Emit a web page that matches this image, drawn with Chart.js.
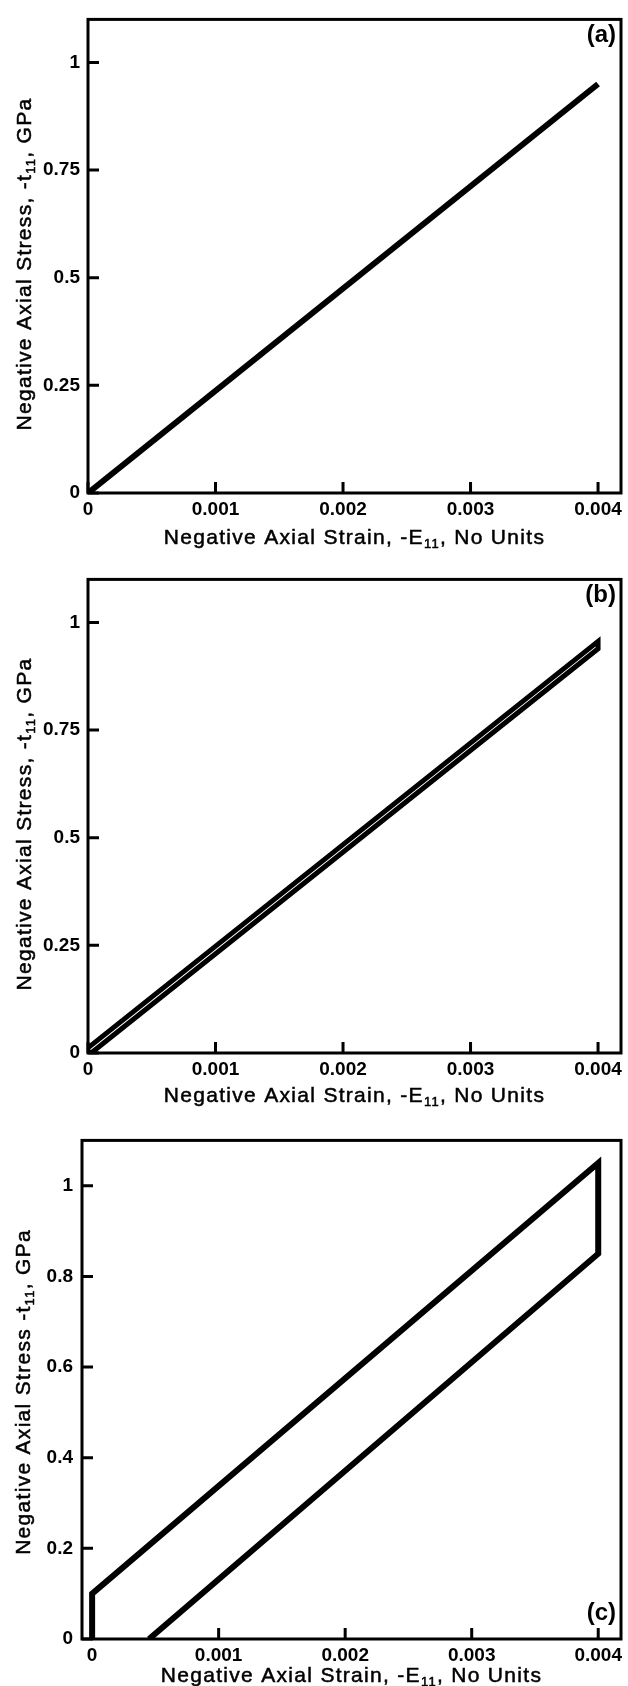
<!DOCTYPE html>
<html lang="en">

<head>
    <meta charset="UTF-8">
    <title>Axial stress vs strain</title>
    <script src="https://cdn.jsdelivr.net/npm/chart.js"></script>
    <style>
        body { margin: 0; background: #fff; }
        canvas { display: block; }
    </style>
</head>

<body>
    <canvas id="graficoA" width="628" height="560"></canvas>
    <canvas id="graficoB" width="628" height="560"></canvas>
    <canvas id="graficoC" width="628" height="566"></canvas>
</body>

</html>

<script>
    // dados
    const strainA = [0, 0.004];
    const stressA = [0, 0.95];

    const strainB = [0, 0, 0.004, 0.004, 0.000025];
    const stressB = [0, 0.012, 0.956, 0.939, 0];

    const strainC = [0, 0, 0.004, 0.004, 0.00045];
    const stressC = [0, 0.1, 1.05, 0.85, 0];

    const xTicks = [0, 0.001, 0.002, 0.003, 0.004];
    const xTickLabels = ['0', '0.001', '0.002', '0.003', '0.004'];
    const yTicksAB = [0, 0.25, 0.5, 0.75, 1];
    const yTickLabelsAB = ['0', '0.25', '0.5', '0.75', '1'];
    const yTicksC = [0, 0.2, 0.4, 0.6, 0.8, 1];
    const yTickLabelsC = ['0', '0.2', '0.4', '0.6', '0.8', '1'];

    // titulos: [texto, subscrito?]
    const xTitle = [['Negative Axial Strain, -E', false], ['11', true], [', No Units', false]];
    const yTitleAB = [['Negative Axial Stress, -t', false], ['11', true], [', GPa', false]];
    const yTitleC = [['Negative Axial Stress -t', false], ['11', true], [', GPa', false]];

    const FONT = "'Liberation Sans', Arial, sans-serif";

    function drawRich(ctx, parts, size) {
        ctx.letterSpacing = '1.3px';
        ctx.lineWidth = 0.5;
        let total = 0;
        parts.forEach(p => {
            ctx.font = (p[1] ? Math.round(size * 0.62) : size) + 'px ' + FONT;
            total += ctx.measureText(p[0]).width;
        });
        let x = -total / 2;
        ctx.textBaseline = 'middle';
        ctx.textAlign = 'left';
        parts.forEach(p => {
            ctx.font = (p[1] ? Math.round(size * 0.62) : size) + 'px ' + FONT;
            const yy = p[1] ? size * 0.32 : 0;
            ctx.fillText(p[0], x, yy);
            ctx.strokeText(p[0], x, yy);
            x += ctx.measureText(p[0]).width;
        });
        ctx.letterSpacing = '0px';
    }

    const moldura = {
        id: 'moldura',
        afterDraw(chart, args, o) {
            const { ctx, chartArea: a, scales: { x, y } } = chart;
            ctx.save();
            ctx.strokeStyle = '#000';
            ctx.fillStyle = '#000';
            ctx.lineWidth = 3;
            ctx.strokeRect(a.left, a.top, a.right - a.left, a.bottom - a.top);
            // marcas para dentro
            ctx.beginPath();
            x.ticks.forEach(t => {
                const px = x.getPixelForValue(t.value);
                ctx.moveTo(px, a.bottom);
                ctx.lineTo(px, a.bottom - 11);
            });
            y.ticks.forEach(t => {
                const py = y.getPixelForValue(t.value);
                ctx.moveTo(a.left, py);
                ctx.lineTo(a.left + 11, py);
            });
            ctx.stroke();

            // titulo eixo x
            ctx.save();
            ctx.translate((a.left + a.right) / 2, o.xTitleY);
            drawRich(ctx, xTitle, 21);
            ctx.restore();

            // titulo eixo y
            ctx.save();
            ctx.translate(o.yTitleX, o.yTitleY);
            ctx.rotate(-Math.PI / 2);
            drawRich(ctx, o.yTitle, 21);
            ctx.restore();

            // letra do painel
            ctx.font = 'bold 24px ' + FONT;
            ctx.textAlign = 'right';
            ctx.textBaseline = 'middle';
            ctx.fillText(o.letra, o.letraX, o.letraY);
            ctx.restore();
        }
    };

    function criarGrafico(id, strain, stress, cfg) {
        const pontos = strain.map((v, i) => ({ x: v, y: stress[i] }));
        return new Chart(document.getElementById(id), {
            type: 'scatter',
            data: {
                datasets: [{
                    data: pontos,
                    showLine: true,
                    borderColor: '#000',
                    borderWidth: cfg.lw,
                    borderJoinStyle: 'miter',
                    borderCapStyle: 'butt',
                    pointRadius: 0,
                    fill: false,
                    tension: 0
                }]
            },
            plugins: [moldura],
            options: {
                responsive: false,
                animation: false,
                layout: { padding: { top: cfg.top, right: 7, left: 0, bottom: 0 } },
                plugins: {
                    legend: { display: false },
                    tooltip: { enabled: false },
                    moldura: cfg.moldura
                },
                scales: {
                    x: {
                        type: 'linear',
                        min: cfg.xmin,
                        max: cfg.xmax,
                        grid: { display: false, drawTicks: false },
                        border: { display: false },
                        afterBuildTicks: s => { s.ticks = xTicks.map(v => ({ value: v })); },
                        afterFit: s => { s.height = cfg.xh; },
                        ticks: {
                            padding: 5,
                            color: '#000',
                            maxRotation: 0,
                            font: { family: FONT, size: 19, weight: 'bold' },
                            callback: (v) => xTickLabels[xTicks.indexOf(v)]
                        }
                    },
                    y: {
                        type: 'linear',
                        min: 0,
                        max: 1.1,
                        grid: { display: false, drawTicks: false },
                        border: { display: false },
                        afterBuildTicks: s => { s.ticks = cfg.yTicks.map(v => ({ value: v })); },
                        afterFit: s => { s.width = cfg.yw; },
                        ticks: {
                            padding: cfg.ypad,
                            color: '#000',
                            font: { family: FONT, size: 19, weight: 'bold' },
                            callback: (v) => cfg.yLabels[cfg.yTicks.indexOf(v)]
                        }
                    }
                }
            }
        });
    }

    criarGrafico('graficoA', strainA, stressA, {
        lw: 6, top: 9, xh: 67, yw: 88, ypad: 8, xmin: 0, xmax: 0.00418,
        yTicks: yTicksAB, yLabels: yTickLabelsAB,
        moldura: { xTitleY: 538, yTitleX: 25, yTitleY: 264, yTitle: yTitleAB, letra: '(a)', letraX: 616, letraY: 35 }
    });

    criarGrafico('graficoB', strainB, stressB, {
        lw: 5, top: 9, xh: 67, yw: 88, ypad: 8, xmin: 0, xmax: 0.00418,
        yTicks: yTicksAB, yLabels: yTickLabelsAB,
        moldura: { xTitleY: 536, yTitleX: 25, yTitleY: 264, yTitle: yTitleAB, letra: '(b)', letraX: 616, letraY: 35 }
    });

    criarGrafico('graficoC', strainC, stressC, {
        lw: 6, top: 20, xh: 47, yw: 82, ypad: 9, xmin: -0.00008, xmax: 0.00418,
        yTicks: yTicksC, yLabels: yTickLabelsC,
        moldura: { xTitleY: 556, yTitleX: 24, yTitleY: 272, yTitle: yTitleC, letra: '(c)', letraX: 616, letraY: 493 }
    });
</script>
